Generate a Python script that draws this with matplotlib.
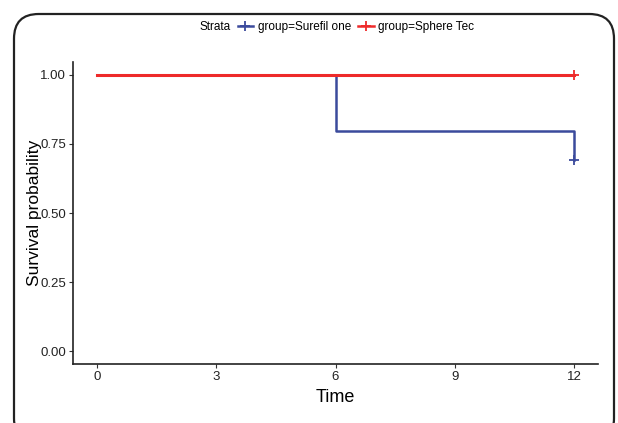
import matplotlib.pyplot as plt
from matplotlib.patches import FancyBboxPatch
from matplotlib.lines import Line2D
from matplotlib.offsetbox import HPacker

plt.rcParams['font.family'] = ['Liberation Sans', 'DejaVu Sans']

# ==== 数据 ====
surefil_time = [0, 6, 6, 12, 12]
surefil_surv = [1.0, 1.0, 0.797, 0.797, 0.692]
sphere_time = [0, 12]
sphere_surv = [1.0, 1.0]
censor_surefil = (12, 0.692)
censor_sphere = (12, 1.0)
x_ticks = [0, 3, 6, 9, 12]
y_ticks = [0.00, 0.25, 0.50, 0.75, 1.00]

BLUE = "#3B4A9C"
RED = "#EE2A2A"

fig = plt.figure(figsize=(6.18, 4.23), dpi=100)
ax = fig.add_axes([73 / 618, 1 - 364 / 423, 525 / 618, 302 / 423])

ax.plot(sphere_time, sphere_surv, color=RED, lw=2.2, zorder=3)
ax.plot(surefil_time, surefil_surv, color=BLUE, lw=1.8, zorder=2)
ax.plot(*censor_sphere, marker="+", color=RED, ms=7, mew=1.3, zorder=4)
ax.plot(*censor_surefil, marker="+", color=BLUE, ms=7, mew=1.3, zorder=4)

ax.set_xlim(-0.6, 12.6)
ax.set_ylim(-0.047, 1.047)
ax.set_xticks(x_ticks)
ax.set_yticks(y_ticks)
ax.set_yticklabels([f"{v:.2f}" for v in y_ticks])
ax.tick_params(labelsize=9.5, length=3, color="#333333", labelcolor="#222222", pad=2)
for s in ["top", "right"]:
    ax.spines[s].set_visible(False)
for s in ["left", "bottom"]:
    ax.spines[s].set_color("#222222")
    ax.spines[s].set_linewidth(1.2)
ax.set_xlabel("Time", fontsize=13)
ax.set_ylabel("Survival probability", fontsize=12.5)
ax.xaxis.set_label_coords(0.5, (364 - 389) / 302)
ax.yaxis.set_label_coords((42 - 73) / 525, 0.5)

# ==== 图例 ====
handles = [Line2D([], [], color=BLUE, marker="+", lw=1.8, ms=7, mew=1.3),
           Line2D([], [], color=RED, marker="+", lw=1.8, ms=7, mew=1.3)]
leg = fig.legend(handles, ["group=Surefil one", "group=Sphere Tec"], title="Strata",
                 loc="center", bbox_to_anchor=(337 / 618, 1 - 27 / 423), ncol=2, frameon=False,
                 fontsize=8.5, title_fontsize=8.5, handlelength=1.3, handletextpad=0.4,
                 columnspacing=0.6)
# 标题放在同一行
box = leg._legend_box
box._children = [HPacker(children=box._children, pad=0, sep=5, align="center")]

# ==== 圆角边框 ====
frame = FancyBboxPatch((14 / 618, -20 / 423), 600 / 618, (409 + 20) / 423,
                       boxstyle="round,pad=0,rounding_size=0.04", transform=fig.transFigure,
                       fill=False, lw=1.6, ec="#222222", mutation_aspect=618 / 423)
fig.patches.append(frame)

fig.savefig("out.png", dpi=100)
